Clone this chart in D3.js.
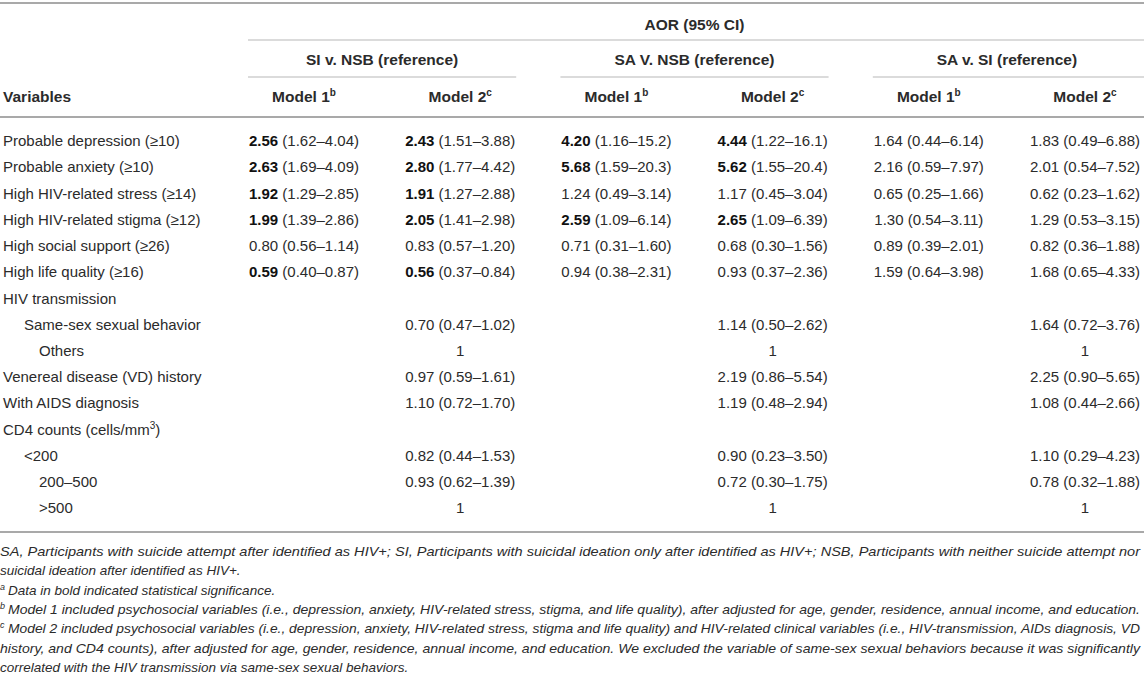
<!DOCTYPE html>
<html>
<head>
<meta charset="utf-8">
<script src="https://cdn.jsdelivr.net/npm/d3@7"></script>
<style>
  body { margin: 0; background: #fff; }
  svg { display: block; font-family: "Liberation Sans", Arial, Helvetica, sans-serif; }
</style>
</head>
<body>
<div id="chart"></div>
<script>
// row labels and indent level (0 = none, 1 = sub, 2 = sub-sub)
const variables = [
  "Probable depression (≥10)", "Probable anxiety (≥10)", "High HIV-related stress (≥14)",
  "High HIV-related stigma (≥12)", "High social support (≥26)", "High life quality (≥16)",
  "HIV transmission", "Same-sex sexual behavior", "Others",
  "Venereal disease (VD) history", "With AIDS diagnosis", "CD4 counts (cells/mm",
  "<200", "200–500", ">500"
];
const indentLevel = [0, 0, 0, 0, 0, 0, 0, 1, 2, 0, 0, 0, 1, 2, 2];

const groups = ["SI v. NSB (reference)", "SA V. NSB (reference)", "SA v. SI (reference)"];
const models = ["Model 1", "Model 2", "Model 1", "Model 2", "Model 1", "Model 2"];
const modelSup = ["b", "c", "b", "c", "b", "c"];

// AOR estimates (null = empty cell) and 95% CI text
const siNsbM1 = [2.56, 2.63, 1.92, 1.99, 0.80, 0.59, null, null, null, null, null, null, null, null, null];
const siNsbM1Ci = ["1.62–4.04", "1.69–4.09", "1.29–2.85", "1.39–2.86", "0.56–1.14", "0.40–0.87"];
const siNsbM1Sig = [1, 1, 1, 1, 0, 1];

const siNsbM2 = [2.43, 2.80, 1.91, 2.05, 0.83, 0.56, null, 0.70, 1, 0.97, 1.10, null, 0.82, 0.93, 1];
const siNsbM2Ci = ["1.51–3.88", "1.77–4.42", "1.27–2.88", "1.41–2.98", "0.57–1.20", "0.37–0.84", null, "0.47–1.02", null, "0.59–1.61", "0.72–1.70", null, "0.44–1.53", "0.62–1.39", null];
const siNsbM2Sig = [1, 1, 1, 1, 0, 1];

const saNsbM1 = [4.20, 5.68, 1.24, 2.59, 0.71, 0.94, null, null, null, null, null, null, null, null, null];
const saNsbM1Ci = ["1.16–15.2", "1.59–20.3", "0.49–3.14", "1.09–6.14", "0.31–1.60", "0.38–2.31"];
const saNsbM1Sig = [1, 1, 0, 1, 0, 0];

const saNsbM2 = [4.44, 5.62, 1.17, 2.65, 0.68, 0.93, null, 1.14, 1, 2.19, 1.19, null, 0.90, 0.72, 1];
const saNsbM2Ci = ["1.22–16.1", "1.55–20.4", "0.45–3.04", "1.09–6.39", "0.30–1.56", "0.37–2.36", null, "0.50–2.62", null, "0.86–5.54", "0.48–2.94", null, "0.23–3.50", "0.30–1.75", null];
const saNsbM2Sig = [1, 1, 0, 1, 0, 0];

const saSiM1 = [1.64, 2.16, 0.65, 1.30, 0.89, 1.59, null, null, null, null, null, null, null, null, null];
const saSiM1Ci = ["0.44–6.14", "0.59–7.97", "0.25–1.66", "0.54–3.11", "0.39–2.01", "0.64–3.98"];
const saSiM1Sig = [0, 0, 0, 0, 0, 0];

const saSiM2 = [1.83, 2.01, 0.62, 1.29, 0.82, 1.68, null, 1.64, 1, 2.25, 1.08, null, 1.10, 0.78, 1];
const saSiM2Ci = ["0.49–6.88", "0.54–7.52", "0.23–1.62", "0.53–3.15", "0.36–1.88", "0.65–4.33", null, "0.72–3.76", null, "0.90–5.65", "0.44–2.66", null, "0.29–4.23", "0.32–1.88", null];
const saSiM2Sig = [0, 0, 0, 0, 0, 0];

const footnotes = [
  { sup: "", text: "SA, Participants with suicide attempt after identified as HIV+; SI, Participants with suicidal ideation only after identified as HIV+; NSB, Participants with neither suicide attempt nor", justify: true },
  { sup: "", text: "suicidal ideation after identified as HIV+.", justify: false },
  { sup: "a", text: "Data in bold indicated statistical significance.", justify: false },
  { sup: "b", text: "Model 1 included psychosocial variables (i.e., depression, anxiety, HIV-related stress, stigma, and life quality), after adjusted for age, gender, residence, annual income, and education.", justify: true },
  { sup: "c", text: "Model 2 included psychosocial variables (i.e., depression, anxiety, HIV-related stress, stigma and life quality) and HIV-related clinical variables (i.e., HIV-transmission, AIDs diagnosis, VD", justify: true },
  { sup: "", text: "history, and CD4 counts), after adjusted for age, gender, residence, annual income, and education. We excluded the variable of same-sex sexual behaviors because it was significantly", justify: true },
  { sup: "", text: "correlated with the HIV transmission via same-sex sexual behaviors.", justify: false }
];

const columns = [
  { est: siNsbM1, ci: siNsbM1Ci, sig: siNsbM1Sig },
  { est: siNsbM2, ci: siNsbM2Ci, sig: siNsbM2Sig },
  { est: saNsbM1, ci: saNsbM1Ci, sig: saNsbM1Sig },
  { est: saNsbM2, ci: saNsbM2Ci, sig: saNsbM2Sig },
  { est: saSiM1, ci: saSiM1Ci, sig: saSiM1Sig },
  { est: saSiM2, ci: saSiM2Ci, sig: saSiM2Sig }
];

const width = 1144, height = 677;
const textColor = "#2b2b2b", lineColor = "#a9a9a9";

const svg = d3.select("#chart").append("svg")
  .attr("width", width)
  .attr("height", height);

// scales
const x = d3.scalePoint().domain(d3.range(columns.length)).range([304, 1085]);
const y = d3.scalePoint().domain(d3.range(variables.length)).range([141, 508]);
const half = 56;           // half width of a data cell
const indentPx = [3, 24, 39];
const fmt = d3.format(".2f");

// rules
function rule(x1, x2, yy, w, c) {
  svg.append("line").attr("x1", x1).attr("x2", x2).attr("y1", yy).attr("y2", yy)
    .attr("stroke", c || lineColor).attr("stroke-width", w || 1);
}
rule(0, width, 3, 2);
rule(x(0) - half, width, 40, 1.2, "#b8b8b8");
groups.forEach((g, i) => {
  rule(x(i * 2) - half, i === 2 ? width : x(i * 2 + 1) + half, 77, 1.2, "#b8b8b8");
});
rule(0, width, 117, 2);
rule(0, width, 532, 2);

// header text
svg.append("text")
  .attr("x", (x(0) + x(5)) / 2).attr("y", 25).attr("dy", "0.35em")
  .attr("text-anchor", "middle").attr("font-weight", "bold").attr("font-size", 15.5)
  .attr("fill", textColor).text("AOR (95% CI)");

svg.selectAll(".group")
  .data(groups)
  .enter().append("text")
  .attr("class", "group")
  .attr("x", (d, i) => (x(i * 2) + x(i * 2 + 1)) / 2)
  .attr("y", 60).attr("dy", "0.35em")
  .attr("text-anchor", "middle").attr("font-weight", "bold").attr("font-size", 15.5)
  .attr("fill", textColor).text(d => d);

svg.append("text")
  .attr("x", 3).attr("y", 97).attr("dy", "0.35em")
  .attr("font-weight", "bold").attr("font-size", 15.5)
  .attr("fill", textColor).text("Variables");

const mh = svg.selectAll(".model")
  .data(models)
  .enter().append("text")
  .attr("class", "model")
  .attr("x", (d, i) => x(i))
  .attr("y", 97).attr("dy", "0.35em")
  .attr("text-anchor", "middle").attr("font-weight", "bold").attr("font-size", 15.5)
  .attr("fill", textColor);
mh.append("tspan").text(d => d);
mh.append("tspan").attr("font-size", 10).attr("dy", -6).text((d, i) => modelSup[i]);

// row labels
const lab = svg.selectAll(".var")
  .data(variables)
  .enter().append("text")
  .attr("class", "var")
  .attr("x", (d, i) => indentPx[indentLevel[i]])
  .attr("y", (d, i) => y(i)).attr("dy", "0.35em")
  .attr("font-size", 15).attr("fill", textColor);
lab.append("tspan").text(d => d);
lab.filter((d, i) => i === 11).each(function () {
  d3.select(this).append("tspan").attr("font-size", 10).attr("dy", -6).text("3");
  d3.select(this).append("tspan").attr("dy", 6).text(")");
});

// data cells
columns.forEach((col, c) => {
  const cells = svg.selectAll(".cell" + c)
    .data(col.est.map((v, i) => ({ v, i, ci: col.ci[i], sig: col.sig[i] })).filter(d => d.v !== null))
    .enter().append("text")
    .attr("class", "cell" + c)
    .attr("x", x(c))
    .attr("y", d => y(d.i)).attr("dy", "0.35em")
    .attr("text-anchor", "middle").attr("font-size", 15).attr("fill", textColor);
  cells.append("tspan")
    .attr("font-weight", d => d.sig ? "bold" : "normal")
    .attr("fill", d => d.sig ? "#111" : textColor)
    .text(d => d.ci ? fmt(d.v) : String(d.v));
  cells.filter(d => d.ci).append("tspan").text(d => " (" + d.ci + ")");
});

// footnotes: baseline placed directly, superscripts shifted in px
const fnBase = d => 556 + d * 19.3;
const fn = svg.selectAll(".fn")
  .data(footnotes)
  .enter().append("text")
  .attr("class", "fn")
  .attr("x", 0)
  .attr("y", (d, i) => fnBase(i))
  .attr("font-size", 13.5).attr("font-style", "italic").attr("fill", textColor);
fn.each(function (d) {
  const t = d3.select(this);
  if (d.sup) {
    t.append("tspan").attr("x", 0).attr("y", +t.attr("y") - 5)
      .attr("font-size", 9).text(d.sup);
  }
  const x0 = d.sup ? 8 : 0;
  const main = t.append("tspan").attr("x", x0).attr("y", t.attr("y")).text(d.text);
  if (d.justify) main.attr("textLength", 1140 - x0).attr("lengthAdjust", "spacingAndGlyphs");
});
</script>
</body>
</html>
